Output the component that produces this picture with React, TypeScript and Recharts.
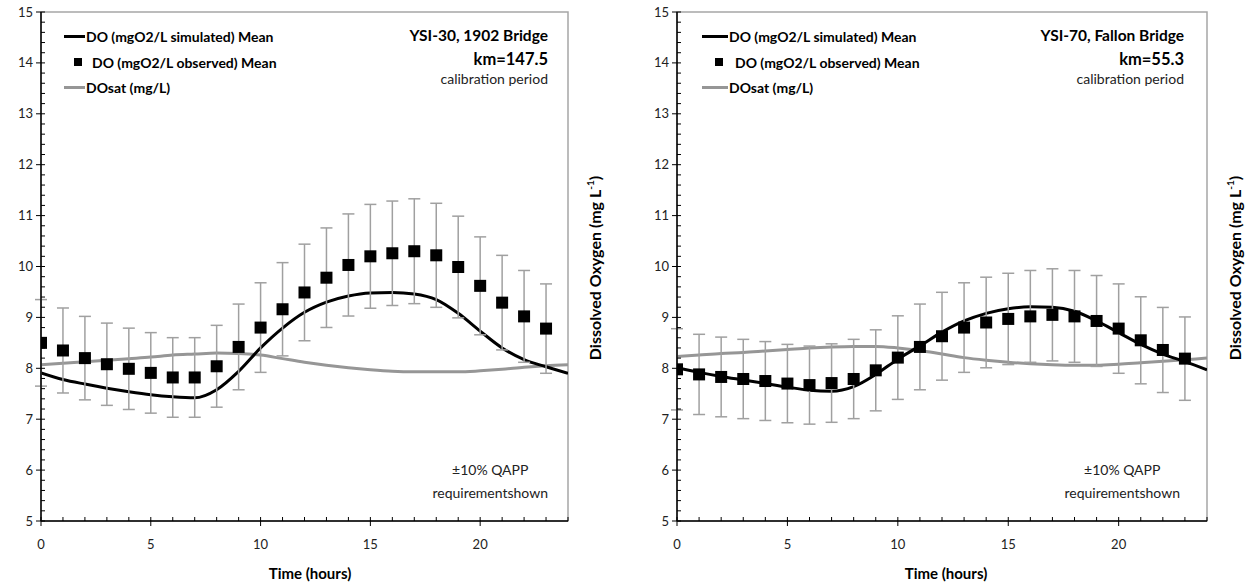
import React from 'react';
import { ComposedChart, Line, Scatter, ErrorBar, XAxis, YAxis, ReferenceArea, Legend } from 'recharts';

const hours = [0, 1, 2, 3, 4, 5, 6, 7, 8, 9, 10, 11, 12, 13, 14, 15, 16, 17, 18, 19, 20, 21, 22, 23, 24];
const obsHours = [0, 1, 2, 3, 4, 5, 6, 7, 8, 9, 10, 11, 12, 13, 14, 15, 16, 17, 18, 19, 20, 21, 22, 23];

// major ticks are labelled; the others are minor tick marks
const xMajorTicks = [0, 5, 10, 15, 20];
const xAllTicks = [0, 1, 2, 3, 4, 5, 6, 7, 8, 9, 10, 11, 12, 13, 14, 15, 16, 17, 18, 19, 20, 21, 22, 23, 24];
const yMajorTicks = [5, 6, 7, 8, 9, 10, 11, 12, 13, 14, 15];
const yAllTicks = [5, 5.2, 5.4, 5.6, 5.8, 6, 6.2, 6.4, 6.6, 6.8, 7, 7.2, 7.4, 7.6, 7.8, 8, 8.2, 8.4, 8.6, 8.8, 9, 9.2, 9.4, 9.6, 9.8, 10, 10.2, 10.4, 10.6, 10.8, 11, 11.2, 11.4, 11.6, 11.8, 12, 12.2, 12.4, 12.6, 12.8, 13, 13.2, 13.4, 13.6, 13.8, 14, 14.2, 14.4, 14.6, 14.8, 15];

// YSI-30, 1902 Bridge
const leftSim = [7.91, 7.78, 7.69, 7.61, 7.54, 7.48, 7.44, 7.42, 7.58, 7.94, 8.40, 8.79, 9.10, 9.30, 9.42, 9.48, 9.49, 9.46, 9.35, 9.08, 8.73, 8.40, 8.17, 8.03, 7.90];
const leftSat = [8.07, 8.10, 8.13, 8.16, 8.19, 8.22, 8.26, 8.28, 8.30, 8.29, 8.26, 8.19, 8.12, 8.06, 8.01, 7.97, 7.94, 7.93, 7.93, 7.93, 7.95, 7.98, 8.02, 8.05, 8.07];
const leftObs = [8.50, 8.35, 8.20, 8.08, 7.99, 7.91, 7.82, 7.82, 8.04, 8.42, 8.80, 9.16, 9.49, 9.78, 10.03, 10.20, 10.26, 10.30, 10.22, 9.99, 9.62, 9.29, 9.02, 8.78];

// YSI-70, Fallon Bridge
const rightSim = [8.01, 7.92, 7.84, 7.77, 7.70, 7.63, 7.57, 7.55, 7.64, 7.88, 8.18, 8.44, 8.71, 8.93, 9.08, 9.17, 9.21, 9.20, 9.12, 8.93, 8.70, 8.47, 8.28, 8.13, 7.97];
const rightSat = [8.23, 8.26, 8.29, 8.31, 8.34, 8.37, 8.40, 8.42, 8.43, 8.43, 8.40, 8.35, 8.28, 8.21, 8.16, 8.12, 8.09, 8.07, 8.06, 8.06, 8.08, 8.11, 8.14, 8.17, 8.20];
const rightObs = [7.98, 7.88, 7.83, 7.79, 7.75, 7.70, 7.67, 7.71, 7.79, 7.96, 8.21, 8.42, 8.63, 8.80, 8.90, 8.97, 9.02, 9.05, 9.02, 8.93, 8.78, 8.55, 8.36, 8.19];

// ±10% QAPP requirement shown as error bars
const qappFraction = 0.1;

const FONT = 'Lato, "Open Sans", sans-serif';

const legendItems = [
  { name: 'DO (mgO2/L simulated) Mean', kind: 'line', color: '#000000' },
  { name: 'DO (mgO2/L observed) Mean', kind: 'square', color: '#000000' },
  { name: 'DOsat (mg/L)', kind: 'line', color: '#969696' },
];

function buildLines(sim: number[], sat: number[]) {
  return hours.map((h, i) => ({ h, sim: sim[i], sat: sat[i] }));
}
function buildObs(obs: number[]) {
  return obsHours.map((h, i) => ({ h, obs: obs[i], err: obs[i] * qappFraction }));
}

const isIn = (arr: number[], v: number) => arr.some((a) => Math.abs(a - v) < 1e-6);

const Square = (props: any) => {
  const { cx, cy } = props;
  if (cx == null || cy == null) return null;
  return <rect x={cx - 6} y={cy - 6} width={12} height={12} fill="#000" />;
};

const YTick = (props: any) => {
  const { x, y, payload } = props;
  const v = payload.value;
  const major = isIn(yMajorTicks, v);
  return (
    <g>
      <line x1={major ? x - 5 : x} x2={x + 4} y1={y} y2={y} stroke="#000" strokeWidth={1} />
      {major && (
        <text x={x - 8} y={y} dy="0.35em" textAnchor="end" fontSize={13} fill="#222" fontFamily={FONT}>
          {v}
        </text>
      )}
    </g>
  );
};

const XTick = (props: any) => {
  const { x, y, payload } = props;
  const v = payload.value;
  const major = isIn(xMajorTicks, v);
  return (
    <g>
      <line x1={x} x2={x} y1={y - 4} y2={major ? y + 5 : y} stroke="#000" strokeWidth={1} />
      {major && (
        <text x={x} y={y + 19} dy="0.71em" textAnchor="middle" fontSize={13} fill="#222" fontFamily={FONT}>
          {v}
        </text>
      )}
    </g>
  );
};

function LegendBox({ lineLen }: { lineLen: number }) {
  return (
    <div style={{ fontFamily: FONT, fontWeight: 700, fontSize: 14, color: '#000' }}>
      {legendItems.map((it) => (
        <div key={it.name} style={{ display: 'flex', alignItems: 'center', height: 25.5, whiteSpace: 'nowrap' }}>
          {it.kind === 'line' ? (
            <div style={{ width: lineLen, height: 3, background: it.color, marginRight: 1 }} />
          ) : (
            <div style={{ width: lineLen + 7, display: 'flex', justifyContent: 'center' }}>
              <div style={{ width: 8, height: 8, background: it.color }} />
            </div>
          )}
          <span>{it.name}</span>
        </div>
      ))}
    </div>
  );
}

type PanelProps = {
  left: number;
  width: number;
  marginRight: number;
  sim: number[];
  sat: number[];
  obs: number[];
  legendLeft: number;
  lineLen: number;
};

function Panel({ left, width, marginRight, sim, sat, obs, legendLeft, lineLen }: PanelProps) {
  const lines = buildLines(sim, sat);
  const obsData = buildObs(obs);
  return (
    <div style={{ position: 'absolute', left, top: 0 }}>
      <ComposedChart width={width} height={583} data={lines} margin={{ top: 12, right: marginRight, bottom: 22, left: 11 }}>
        <ReferenceArea x1={0} x2={24} y1={5} y2={15} fill="none" stroke="#a6a6a6" strokeWidth={1.5} ifOverflow="visible" />
        <XAxis dataKey="h" type="number" domain={[0, 24]} allowDataOverflow ticks={xAllTicks} interval={0} height={40} tickSize={0} tickMargin={0} tick={XTick} tickLine={false} axisLine={{ stroke: '#000', strokeWidth: 1.5 }} />
        <YAxis type="number" domain={[5, 15]} allowDataOverflow ticks={yAllTicks} interval={0} width={30} tickSize={0} tickMargin={0} tick={YTick} tickLine={false} axisLine={{ stroke: '#000', strokeWidth: 1.5 }} />
        <Line dataKey="sat" type="monotone" stroke="#969696" strokeWidth={3} dot={false} isAnimationActive={false} />
        <Line dataKey="sim" type="monotone" stroke="#000" strokeWidth={3} dot={false} isAnimationActive={false} />
        <Scatter data={obsData} dataKey="obs" shape={Square} isAnimationActive={false}>
          <ErrorBar dataKey="err" direction="y" width={6} stroke="#a0a0a0" strokeWidth={1.5} />
        </Scatter>
        <Legend
          layout="vertical"
          align="center"
          verticalAlign="middle"
          wrapperStyle={{ left: legendLeft, top: 24, width: 300 }}
          content={() => <LegendBox lineLen={lineLen} />}
        />
      </ComposedChart>
    </div>
  );
}

const txt = (extra: React.CSSProperties): React.CSSProperties => ({
  position: 'absolute',
  fontFamily: FONT,
  color: '#000',
  whiteSpace: 'nowrap',
  ...extra,
});

function Annotations({ rightEdge, title, km, qappRight, yLabelX }: { rightEdge: number; title: string; km: string; qappRight: number; yLabelX: number }) {
  const r = 1247 - rightEdge;
  const rq = 1247 - qappRight;
  return (
    <>
      <div style={txt({ right: r, top: 26, fontWeight: 700, fontSize: 15.5, textAlign: 'right' })}>{title}</div>
      <div style={txt({ right: r, top: 49, fontWeight: 700, fontSize: 16.5, textAlign: 'right' })}>{km}</div>
      <div style={txt({ right: r, top: 70, fontSize: 14, textAlign: 'right', color: '#222' })}>calibration period</div>
      <div style={txt({ right: rq, top: 458, fontSize: 14, textAlign: 'center', color: '#222', lineHeight: '23px' })}>
        ±10% QAPP
        <br />
        requirementshown
      </div>
      <div
        style={txt({
          left: yLabelX,
          top: 268,
          fontWeight: 700,
          fontSize: 16,
          transform: 'translate(-50%, -50%) rotate(-90deg)',
        })}
      >
        Dissolved Oxygen (mg L<sup style={{ fontSize: 10 }}>-1</sup>)
      </div>
    </>
  );
}

export default function App() {
  return (
    <div style={{ position: 'absolute', left: 0, top: 0, width: 1247, height: 583, background: '#fff', overflow: 'hidden' }}>
      <Panel left={0} width={640} marginRight={72} sim={leftSim} sat={leftSat} obs={leftObs} legendLeft={64} lineLen={21} />
      <Panel left={636} width={611} marginRight={40} sim={rightSim} sat={rightSat} obs={rightObs} legendLeft={66} lineLen={26} />
      <Annotations rightEdge={548} title="YSI-30, 1902 Bridge" km="km=147.5" qappRight={548} yLabelX={594} />
      <Annotations rightEdge={1184} title="YSI-70, Fallon Bridge" km="km=55.3" qappRight={1180} yLabelX={1234} />
      <div style={txt({ left: 310, top: 573, fontWeight: 700, fontSize: 15, transform: 'translate(-50%, -50%)' })}>Time (hours)</div>
      <div style={txt({ left: 946, top: 573, fontWeight: 700, fontSize: 15, transform: 'translate(-50%, -50%)' })}>Time (hours)</div>
    </div>
  );
}
